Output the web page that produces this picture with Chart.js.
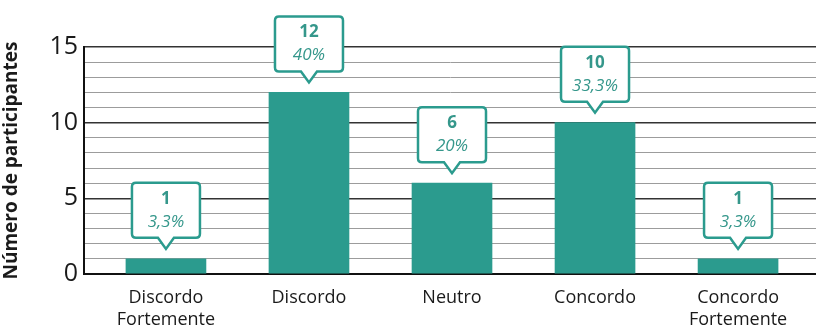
<!DOCTYPE html>
<html>
<head>
<meta charset="utf-8">
<script src="https://cdn.jsdelivr.net/npm/chart.js@4"></script>
<style>
  html, body { margin: 0; padding: 0; background: #fff; }
  #wrap { width: 816px; height: 326px; }
</style>
</head>
<body>
<div id="wrap"><canvas id="chart" width="816" height="326"></canvas></div>
<script>
// Chart data
const categories = [
  ['Discordo', 'Fortemente'],
  ['Discordo'],
  ['Neutro'],
  ['Concordo'],
  ['Concordo', 'Fortemente']
];
const participants = [1, 12, 6, 10, 1];
const percentLabels = ['3,3%', '40%', '20%', '33,3%', '3,3%'];
const yTickLabels = [0, 5, 10, 15];

const teal = '#2b9b8e';
const tealText = '#35978b';
const fontFamily = '"Open Sans", "Noto Sans", sans-serif';

// Callout boxes above each bar
const calloutPlugin = {
  id: 'callouts',
  afterDatasetsDraw(chart) {
    const ctx = chart.ctx;
    const meta = chart.getDatasetMeta(0);
    meta.data.forEach((bar, i) => {
      const w = 68, h = 55, r = 4, ph = 11, pw = 8;
      const tip = bar.y - 10;
      const bottom = tip - ph;
      const top = bottom - h;
      const left = bar.x - w / 2, right = bar.x + w / 2;

      ctx.save();
      ctx.beginPath();
      ctx.moveTo(left + r, top);
      ctx.lineTo(right - r, top);
      ctx.quadraticCurveTo(right, top, right, top + r);
      ctx.lineTo(right, bottom - r);
      ctx.quadraticCurveTo(right, bottom, right - r, bottom);
      ctx.lineTo(bar.x + pw, bottom);
      ctx.lineTo(bar.x, tip);
      ctx.lineTo(bar.x - pw, bottom);
      ctx.lineTo(left + r, bottom);
      ctx.quadraticCurveTo(left, bottom, left, bottom - r);
      ctx.lineTo(left, top + r);
      ctx.quadraticCurveTo(left, top, left + r, top);
      ctx.closePath();
      ctx.fillStyle = '#fff';
      ctx.fill();
      ctx.lineWidth = 2.5;
      ctx.strokeStyle = teal;
      ctx.stroke();

      ctx.fillStyle = tealText;
      ctx.textAlign = 'center';
      ctx.textBaseline = 'middle';
      ctx.font = 'bold 17px ' + fontFamily;
      ctx.fillText(String(participants[i]), bar.x, top + 16);
      ctx.font = 'italic 17px ' + fontFamily;
      ctx.fillText(percentLabels[i], bar.x, top + 39);
      ctx.restore();
    });
  }
};

new Chart(document.getElementById('chart'), {
  type: 'bar',
  data: {
    datasets: [{
      data: participants.map((v, i) => ({ x: i, y: v })),
      backgroundColor: teal,
      borderWidth: 0,
      barThickness: 80
    }]
  },
  options: {
    responsive: false,
    animation: false,
    layout: { padding: { top: 47, right: 0, bottom: 0, left: 0 } },
    plugins: {
      legend: { display: false },
      tooltip: { enabled: false }
    },
    scales: {
      x: {
        type: 'linear',
        offset: false,
        min: -0.573,
        max: 4.545,
        afterBuildTicks: scale => {
          scale.ticks = categories.map((c, i) => ({ value: i }));
        },
        afterFit: scale => { scale.height = 52; },
        grid: { display: false, drawTicks: false, offset: false },
        border: { display: true, color: '#111', width: 2 },
        ticks: {
          padding: 13,
          autoSkip: false,
          maxRotation: 0,
          color: '#1a1a1a',
          font: { family: fontFamily, size: 18, lineHeight: 1.2 },
          callback: v => categories[v]
        }
      },
      y: {
        min: 0,
        max: 15,
        afterFit: scale => { scale.width = 84; },
        ticks: {
          stepSize: 1,
          autoSkip: false,
          maxTicksLimit: 20,
          padding: 6,
          color: '#1a1a1a',
          font: { family: fontFamily, size: 25 },
          callback: v => yTickLabels.includes(v) ? String(v) : ''
        },
        grid: {
          drawTicks: false,
          color: ctx => ctx.tick && ctx.tick.value % 5 === 0 ? '#333' : '#9c9c9c',
          lineWidth: ctx => ctx.tick && ctx.tick.value % 5 === 0 ? 1.5 : 1
        },
        border: { display: true, color: '#111', width: 2 },
        title: {
          display: true,
          text: 'Número de participantes',
          color: '#1a1a1a',
          padding: { top: 0, bottom: 4 },
          font: { family: fontFamily, size: 19, weight: 'bold' }
        }
      }
    }
  },
  plugins: [calloutPlugin]
});
</script>
</body>
</html>
